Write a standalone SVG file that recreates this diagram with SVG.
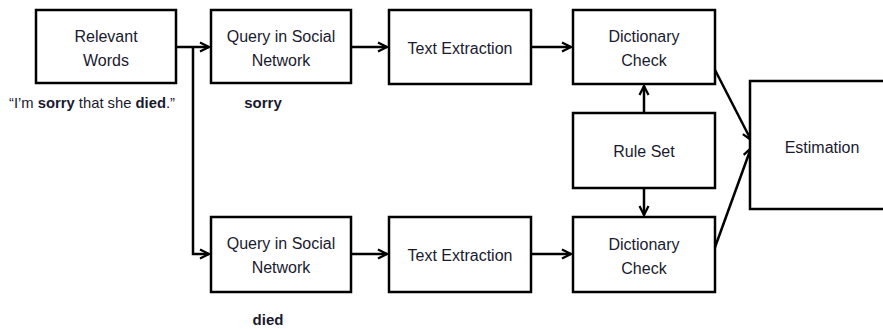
<svg xmlns="http://www.w3.org/2000/svg" width="883" height="329" viewBox="0 0 883 329">
<defs>
<style>
.box{fill:#fff;stroke:#000;stroke-width:2.5}
.t{font-family:"Liberation Sans",Arial,sans-serif;font-size:16px;fill:#1a1a2e;text-anchor:middle}
.c{fill:none;stroke:#000;stroke-width:2.5}
.b{font-weight:bold}
</style>
<marker id="ah" viewBox="0 0 10 10" refX="9" refY="5" markerWidth="4.5" markerHeight="4.5" orient="auto" markerUnits="strokeWidth">
<path d="M1,1 L9,5 L1,9" fill="none" stroke="#000" stroke-width="2"/>
</marker>
</defs>
<g id="connectors">
<path class="c" d="M176,47 H209" marker-end="url(#ah)"/>
<path class="c" d="M193,47 V254 H209" marker-end="url(#ah)"/>
<path class="c" d="M351,47 H387" marker-end="url(#ah)"/>
<path class="c" d="M531,47 H571" marker-end="url(#ah)"/>
<path class="c" d="M351,254 H387" marker-end="url(#ah)"/>
<path class="c" d="M531,254 H571" marker-end="url(#ah)"/>
<path class="c" d="M644,113 V86" marker-end="url(#ah)"/>
<path class="c" d="M644,188 V215" marker-end="url(#ah)"/>
<path class="c" d="M714,68 L751,140" marker-end="url(#ah)"/>
<path class="c" d="M714,250 L751,148" marker-end="url(#ah)"/>
</g>
<g id="relevant-words">
<rect class="box" x="36" y="10" width="140" height="73"/>
<text class="t" x="106" y="42">Relevant</text>
<text class="t" x="106" y="66">Words</text>
</g>
<g id="query-top">
<rect class="box" x="211" y="10" width="140" height="73"/>
<text class="t" x="281" y="42">Query in Social</text>
<text class="t" x="281" y="66">Network</text>
</g>
<g id="text-top">
<rect class="box" x="389" y="10" width="142" height="74"/>
<text class="t" x="460" y="54">Text Extraction</text>
</g>
<g id="dict-top">
<rect class="box" x="573" y="10" width="142" height="74"/>
<text class="t" x="644" y="42">Dictionary</text>
<text class="t" x="644" y="66">Check</text>
</g>
<g id="rule-set">
<rect class="box" x="573" y="113" width="142" height="75"/>
<text class="t" x="644" y="157">Rule Set</text>
</g>
<g id="query-bottom">
<rect class="box" x="211" y="217" width="140" height="75"/>
<text class="t" x="281" y="249">Query in Social</text>
<text class="t" x="281" y="273">Network</text>
</g>
<g id="text-bottom">
<rect class="box" x="389" y="217" width="142" height="75"/>
<text class="t" x="460" y="261">Text Extraction</text>
</g>
<g id="dict-bottom">
<rect class="box" x="573" y="217" width="142" height="75"/>
<text class="t" x="644" y="250">Dictionary</text>
<text class="t" x="644" y="274">Check</text>
</g>
<g id="estimation">
<rect class="box" x="750" y="81" width="140" height="128"/>
<text class="t" x="822" y="153">Estimation</text>
</g>
<g id="labels">
<text class="t" x="92" y="108" style="font-size:15px" textLength="166" lengthAdjust="spacingAndGlyphs">“I’m <tspan class="b">sorry</tspan> that she <tspan class="b">died</tspan>.”</text>
<text class="t b" x="263" y="108" style="font-size:15px">sorry</text>
<text class="t b" x="268" y="325" style="font-size:15px">died</text>
</g>
</svg>
